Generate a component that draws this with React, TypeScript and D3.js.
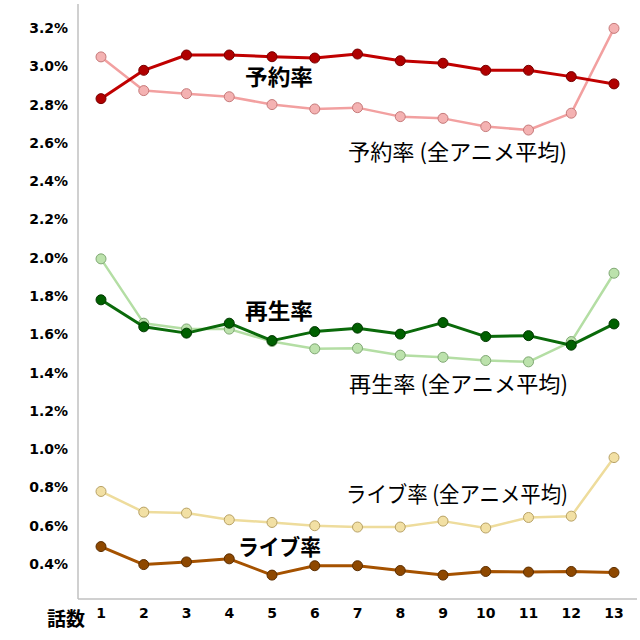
import React from "react";
import * as d3 from "d3";

const episodes = [1, 2, 3, 4, 5, 6, 7, 8, 9, 10, 11, 12, 13];
const yTicks = [0.4, 0.6, 0.8, 1.0, 1.2, 1.4, 1.6, 1.8, 2.0, 2.2, 2.4, 2.6, 2.8, 3.0, 3.2];

const reserveRate = [2.831, 2.979, 3.059, 3.059, 3.05, 3.043, 3.064, 3.029, 3.016, 2.979, 2.979, 2.946, 2.908];
const reserveAvg = [3.049, 2.873, 2.857, 2.841, 2.8, 2.777, 2.784, 2.737, 2.728, 2.685, 2.667, 2.755, 3.198];
const playRate = [1.78, 1.639, 1.606, 1.658, 1.567, 1.614, 1.632, 1.601, 1.661, 1.588, 1.593, 1.543, 1.654];
const playAvg = [1.994, 1.658, 1.628, 1.627, 1.562, 1.524, 1.527, 1.491, 1.48, 1.463, 1.456, 1.562, 1.919];
const liveRate = [0.491, 0.397, 0.411, 0.427, 0.342, 0.391, 0.391, 0.366, 0.342, 0.361, 0.358, 0.361, 0.356];
const liveAvg = [0.779, 0.671, 0.666, 0.631, 0.617, 0.6, 0.593, 0.593, 0.624, 0.588, 0.643, 0.65, 0.956];

const seriesList = [
  { name: "reserveAvg", values: reserveAvg, line: "#f2a0a0", fill: "#f4b2b2", stroke: "#c67a7a", width: 2.5 },
  { name: "playAvg", values: playAvg, line: "#b4dea4", fill: "#bce2ac", stroke: "#80a874", width: 2.5 },
  { name: "liveAvg", values: liveAvg, line: "#eedc9c", fill: "#f2e0a4", stroke: "#b8a266", width: 2.5 },
  { name: "reserveRate", values: reserveRate, line: "#c00000", fill: "#b00000", stroke: "#780000", width: 3 },
  { name: "playRate", values: playRate, line: "#0a6a0a", fill: "#006000", stroke: "#003800", width: 3 },
  { name: "liveRate", values: liveRate, line: "#a55200", fill: "#8e4800", stroke: "#5c2e00", width: 3 },
];

const labels = [
  { text: "予約率", x: 245, y: 85, bold: true, len: 68 },
  { text: "予約率 (全アニメ平均)", x: 348, y: 160, bold: false, len: 219 },
  { text: "再生率", x: 245, y: 319, bold: true, len: 68 },
  { text: "再生率 (全アニメ平均)", x: 349, y: 392, bold: false, len: 219 },
  { text: "ライブ率", x: 238, y: 555, bold: true, len: 83 },
  { text: "ライブ率 (全アニメ平均)", x: 346, y: 502, bold: false, len: 222 },
];

export default function App() {
  const x = d3.scaleLinear().domain([1, 13]).range([101, 614]);
  const y = d3.scaleLinear().domain([0.4, 3.2]).range([564, 28]);
  const line = d3
    .line<number>()
    .x((_, i) => x(episodes[i]))
    .y((d) => y(d));
  const axisTop = 4;
  const axisBottom = 599;
  const axisLeft = 78;
  const axisRight = 637;
  const tickFont = "'DejaVu Sans', Verdana, sans-serif";
  const jpFont = "'Noto Sans CJK JP', sans-serif";

  return (
    <svg width={640} height={640} style={{ position: "absolute", left: 0, top: 0, background: "#fff" }}>
      <line x1={axisLeft} x2={axisLeft} y1={axisTop} y2={axisBottom} stroke="#c0c0c0" strokeWidth={1.5} />
      <line x1={axisLeft} x2={axisRight} y1={axisBottom} y2={axisBottom} stroke="#c0c0c0" strokeWidth={1.5} />
      {yTicks.map((t) => (
        <text
          key={t}
          x={68}
          y={y(t)}
          dy="0.36em"
          textAnchor="end"
          fontFamily={tickFont}
          fontWeight="bold"
          fontSize={14}
          fill="#000"
        >
          {t.toFixed(1) + "%"}
        </text>
      ))}
      {episodes.map((e) => (
        <text
          key={e}
          x={x(e)}
          y={618}
          textAnchor="middle"
          fontFamily={tickFont}
          fontWeight="bold"
          fontSize={14}
          fill="#000"
        >
          {e}
        </text>
      ))}
      <text x={47} y={626} fontFamily={jpFont} fontWeight="bold" fontSize={19} fill="#000">
        話数
      </text>
      {seriesList.map((s) => (
        <g key={s.name}>
          <path d={line(s.values) || ""} fill="none" stroke={s.line} strokeWidth={s.width} strokeLinejoin="round" />
          {s.values.map((v, i) => (
            <circle key={i} cx={x(episodes[i])} cy={y(v)} r={5} fill={s.fill} stroke={s.stroke} strokeWidth={1} />
          ))}
        </g>
      ))}
      {labels.map((l) => (
        <text
          key={l.text}
          x={l.x}
          y={l.y}
          fontFamily={jpFont}
          fontWeight={l.bold ? "bold" : "normal"}
          fontSize={22}
          textLength={l.len}
          lengthAdjust="spacingAndGlyphs"
          fill="#000"
        >
          {l.text}
        </text>
      ))}
    </svg>
  );
}
